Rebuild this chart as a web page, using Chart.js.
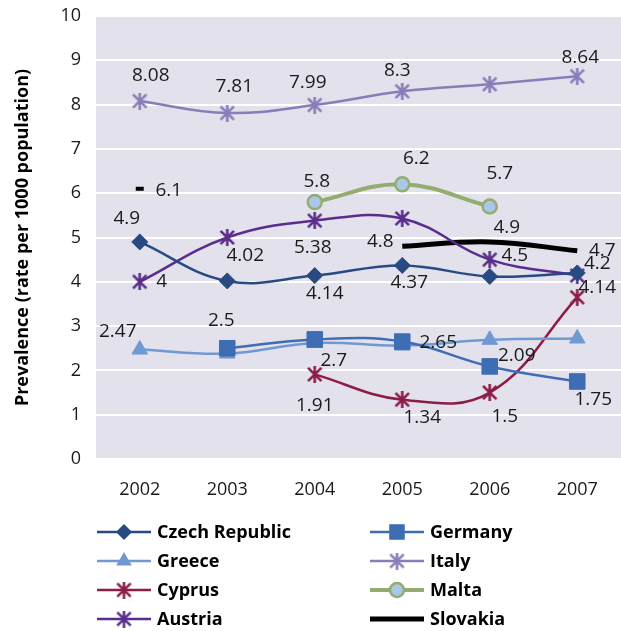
<!DOCTYPE html>
<html>
<head>
<meta charset="utf-8">
<script src="https://cdn.jsdelivr.net/npm/chart.js@4"></script>
<style>
  html, body { margin: 0; padding: 0; background: #fff; }
  #wrap { width: 621px; height: 631px; }
</style>
</head>
<body>
<div id="wrap"><canvas id="chart" width="621" height="631"></canvas></div>
<script>
// years on the x axis
const years = ["2002", "2003", "2004", "2005", "2006", "2007"];

// prevalence, rate per 1000 population
const czech    = [4.9, 4.02, 4.14, 4.37, 4.12, 4.2];
const germany  = [null, 2.5, 2.7, 2.65, 2.09, 1.75];
const greece   = [2.47, 2.38, 2.62, 2.56, 2.69, 2.72];
const italy    = [8.08, 7.81, 7.99, 8.3, 8.46, 8.64];
const cyprus   = [null, null, 1.91, 1.34, 1.5, 3.65];
const malta    = [null, null, 5.8, 6.2, 5.7, null];
const austria  = [4, 5.0, 5.38, 5.43, 4.5, 4.14];
const slovakia = [6.1, null, null, 4.8, 4.9, 4.7];

const yTicks = [0, 1, 2, 3, 4, 5, 6, 7, 8, 9, 10];

const FONT = "'Open Sans', 'DejaVu Sans', sans-serif";

// asterisk marker like the office one: X plus a vertical bar
function asterisk(color, size, lw) {
  const c = document.createElement("canvas");
  c.width = size;
  c.height = size;
  const g = c.getContext("2d");
  const m = lw / 2 + 0.5;
  g.strokeStyle = color;
  g.lineWidth = lw;
  g.beginPath();
  g.moveTo(m, m); g.lineTo(size - m, size - m);
  g.moveTo(size - m, m); g.lineTo(m, size - m);
  g.moveTo(size / 2, 0); g.lineTo(size / 2, size);
  g.stroke();
  return c;
}

const italyStar = asterisk("#8a7cb8", 17, 2.6);
const cyprusStar = asterisk("#8c1c48", 17, 2.6);
const austriaStar = asterisk("#5a2d8c", 17, 2.6);

// label offsets (px from the point), null = no label
const datasets = [
  {
    label: "Czech Republic", data: czech,
    borderColor: "#284a82", backgroundColor: "#284a82", borderWidth: 2.5,
    pointStyle: "rectRot", pointRadius: 8,
    labelAt: [[-13, -23], [18, -25], [10, 18], [7, 17], null, [20, -9]]
  },
  {
    label: "Germany", data: germany,
    borderColor: "#3f6db4", backgroundColor: "#3f6db4", borderWidth: 2.5,
    pointStyle: "rect", pointRadius: 11,
    labelAt: [null, [-6, -28], [19, 21], [36, 1], [27, -11], [16, 18]]
  },
  {
    label: "Greece", data: greece,
    borderColor: "#7199d1", backgroundColor: "#7199d1", borderWidth: 2.5,
    pointStyle: "triangle", pointRadius: 9,
    labelAt: [[-22, -18], null, null, null, null, null]
  },
  {
    label: "Italy", data: italy,
    borderColor: "#8a7cb8", backgroundColor: "#8a7cb8", borderWidth: 2.5,
    pointStyle: italyStar, pointRadius: 8,
    labelAt: [[11, -25], [7, -26], [-7, -22], [-5, -21], null, [3, -19]]
  },
  {
    label: "Cyprus", data: cyprus,
    borderColor: "#8c1c48", backgroundColor: "#8c1c48", borderWidth: 2.5,
    pointStyle: cyprusStar, pointRadius: 8,
    labelAt: [null, null, [0, 31], [20, 18], [15, 24], null]
  },
  {
    label: "Malta", data: malta,
    borderColor: "#93ad70", backgroundColor: "#a9c8e8", borderWidth: 4,
    pointStyle: "circle", pointRadius: 7, pointBorderWidth: 2.5, pointBorderColor: "#93ad70",
    labelAt: [null, null, [2, -20], [14, -26], [10, -33], null]
  },
  {
    label: "Austria", data: austria,
    borderColor: "#5a2d8c", backgroundColor: "#5a2d8c", borderWidth: 2.5,
    pointStyle: austriaStar, pointRadius: 8,
    labelAt: [[22, 0], null, [-2, 27], null, [25, -4], [20, 12]]
  },
  {
    label: "Slovakia", data: slovakia,
    borderColor: "#000000", backgroundColor: "#000000", borderWidth: 5,
    pointStyle: "line", pointRadius: [4, 0, 0, 0, 0, 0], pointBorderWidth: 4,
    labelAt: [[29, 2], null, null, [-22, -5], [17, -14], [25, 0]]
  }
];

datasets.forEach(d => {
  d.tension = 0.4;
  d.spanGaps = false;
  d.pointHoverRadius = d.pointRadius;
  if (d.pointBorderColor === undefined) d.pointBorderColor = d.borderColor;
  if (d.pointBorderWidth === undefined) d.pointBorderWidth = 1;
});

const plotBg = {
  id: "plotBg",
  beforeDraw(chart) {
    const { ctx, chartArea: a } = chart;
    ctx.save();
    ctx.fillStyle = "#e3e1ec";
    ctx.fillRect(a.left, a.top, a.right - a.left, a.bottom - a.top);
    ctx.restore();
  }
};

const valueLabels = {
  id: "valueLabels",
  afterDatasetsDraw(chart) {
    const ctx = chart.ctx;
    ctx.save();
    ctx.font = "19px " + FONT;
    ctx.fillStyle = "#1a1a1a";
    ctx.textAlign = "center";
    ctx.textBaseline = "middle";
    chart.data.datasets.forEach((ds, i) => {
      const meta = chart.getDatasetMeta(i);
      ds.labelAt.forEach((off, j) => {
        if (!off || ds.data[j] == null) return;
        const p = meta.data[j];
        ctx.fillText(String(ds.data[j]), p.x + off[0], p.y + off[1]);
      });
    });
    ctx.restore();
  }
};

function drawMarker(ctx, ds, x, y) {
  const st = ds.pointStyle;
  ctx.save();
  if (st instanceof HTMLCanvasElement) {
    ctx.drawImage(st, x - st.width / 2, y - st.height / 2);
  } else if (st === "rectRot") {
    const r = ds.pointRadius;
    ctx.fillStyle = ds.backgroundColor;
    ctx.beginPath();
    ctx.moveTo(x, y - r); ctx.lineTo(x + r, y); ctx.lineTo(x, y + r); ctx.lineTo(x - r, y);
    ctx.closePath(); ctx.fill();
  } else if (st === "rect") {
    const s = ds.pointRadius * Math.SQRT1_2;
    ctx.fillStyle = ds.backgroundColor;
    ctx.fillRect(x - s, y - s, 2 * s, 2 * s);
  } else if (st === "triangle") {
    const r = ds.pointRadius;
    ctx.fillStyle = ds.backgroundColor;
    ctx.beginPath();
    ctx.moveTo(x, y - r);
    ctx.lineTo(x + r * 0.866, y + r * 0.5);
    ctx.lineTo(x - r * 0.866, y + r * 0.5);
    ctx.closePath(); ctx.fill();
  } else if (st === "circle") {
    ctx.fillStyle = ds.backgroundColor;
    ctx.strokeStyle = ds.pointBorderColor;
    ctx.lineWidth = ds.pointBorderWidth;
    ctx.beginPath();
    ctx.arc(x, y, ds.pointRadius, 0, Math.PI * 2);
    ctx.fill(); ctx.stroke();
  }
  ctx.restore();
}

// two-column legend under the plot
const gridLegend = {
  id: "gridLegend",
  afterDraw(chart) {
    const ctx = chart.ctx;
    const cols = [97, 370];
    const rows = [532, 561, 590, 619];
    ctx.save();
    ctx.font = "bold 18px " + FONT;
    ctx.fillStyle = "#000";
    ctx.textBaseline = "middle";
    chart.data.datasets.forEach((ds, i) => {
      const x = cols[i % 2];
      const y = rows[Math.floor(i / 2)];
      ctx.strokeStyle = ds.borderColor;
      ctx.lineWidth = ds.borderWidth;
      ctx.beginPath();
      ctx.moveTo(x, y);
      ctx.lineTo(x + 54, y);
      ctx.stroke();
      if (ds.pointStyle !== "line") drawMarker(ctx, ds, x + 27, y);
      ctx.fillText(ds.label, x + 60, y + 1);
    });
    ctx.restore();
  }
};

new Chart(document.getElementById("chart"), {
  type: "line",
  data: { labels: years, datasets: datasets },
  options: {
    responsive: false,
    animation: false,
    layout: { autoPadding: false, padding: { left: 0, right: 0, top: 16, bottom: 122 } },
    plugins: {
      legend: { display: false },
      tooltip: { enabled: false }
    },
    scales: {
      x: {
        offset: true,
        grid: { display: false, drawTicks: false },
        border: { display: false },
        ticks: { color: "#1a1a1a", font: { family: FONT, size: 18 }, padding: 20 },
        afterFit(scale) {
          scale.height = 50;
          scale.paddingLeft = 0;
          scale.paddingRight = 0;
        }
      },
      y: {
        min: 0,
        max: 10,
        afterBuildTicks(scale) { scale.ticks = yTicks.map(v => ({ value: v })); },
        grid: { color: "#ffffff", lineWidth: 2, drawTicks: false },
        border: { display: false },
        ticks: { color: "#1a1a1a", font: { family: FONT, size: 18 }, padding: 15 },
        title: {
          display: true,
          text: "Prevalence (rate per 1000 population)",
          color: "#000",
          font: { family: FONT, size: 18, weight: "bold" },
          padding: { top: 12, bottom: 0 }
        },
        afterFit(scale) {
          scale.width = 96;
          scale.paddingTop = 0;
          scale.paddingBottom = 0;
        }
      }
    }
  },
  plugins: [plotBg, valueLabels, gridLegend]
});
</script>
</body>
</html>
